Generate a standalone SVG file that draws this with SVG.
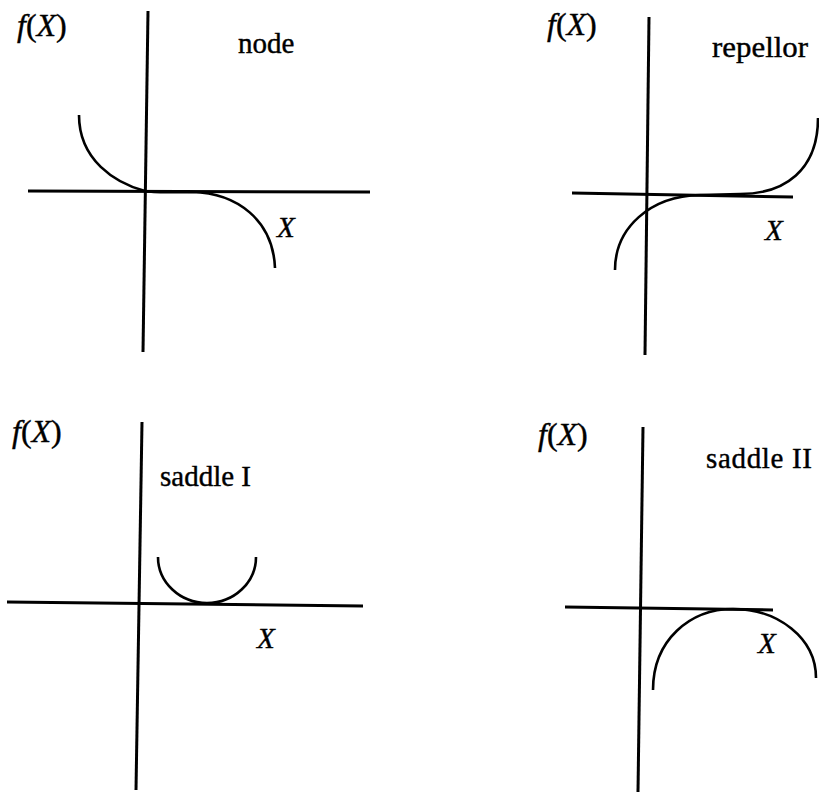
<svg xmlns="http://www.w3.org/2000/svg" width="819" height="793" viewBox="0 0 819 793">
<style>
.ax{stroke:#000;stroke-width:3;fill:none;stroke-linecap:butt}
.cv{stroke:#000;stroke-width:2.6;fill:none}
text{font-family:"Liberation Serif","Times New Roman",serif;font-size:29px;fill:#000;stroke:#000;stroke-width:0.4}
.fx{font-size:32px}
.it{font-style:italic}
</style>
<rect width="819" height="793" fill="#fff"/>
<g id="node-panel">
  <line class="ax" x1="148" y1="11" x2="143" y2="352"/>
  <line class="ax" x1="28" y1="191" x2="370" y2="192"/>
  <path class="cv" d="M79,115 C79,160 115,183 145,191 C155,193 172,192 192,192 C237,193 273,220 275,268"/>
  <text class="fx" x="17" y="36"><tspan class="it">f</tspan>(<tspan class="it">X</tspan>)</text>
  <text x="238" y="53">node</text>
  <text class="it" x="277" y="237">X</text>
</g>
<g id="repellor-panel">
  <line class="ax" x1="649" y1="17" x2="645" y2="355"/>
  <line class="ax" x1="572" y1="193" x2="793" y2="197"/>
  <path class="cv" d="M615,270 C615,228 650,196 700,195 L740,194 C785,194 818,170 818,118"/>
  <text class="fx" x="547" y="35"><tspan class="it">f</tspan>(<tspan class="it">X</tspan>)</text>
  <text x="712" y="57" textLength="96" lengthAdjust="spacingAndGlyphs">repellor</text>
  <text class="it" x="765" y="240">X</text>
</g>
<g id="saddle1-panel">
  <line class="ax" x1="142" y1="422" x2="136" y2="790"/>
  <line class="ax" x1="7" y1="602" x2="363" y2="606"/>
  <path class="cv" d="M158,557 A49,46 0 0 0 256,557"/>
  <text class="fx" x="12" y="442"><tspan class="it">f</tspan>(<tspan class="it">X</tspan>)</text>
  <text x="160" y="486">saddle I</text>
  <text class="it" x="257" y="648">X</text>
</g>
<g id="saddle2-panel">
  <line class="ax" x1="643" y1="427" x2="638" y2="792"/>
  <line class="ax" x1="565" y1="607" x2="773" y2="610"/>
  <path class="cv" d="M653,690 C653,640 690,609 733,609 C778,609 816,638 816,678"/>
  <text class="fx" x="538" y="445"><tspan class="it">f</tspan>(<tspan class="it">X</tspan>)</text>
  <text x="706" y="468" textLength="106">saddle II</text>
  <text class="it" x="758" y="653">X</text>
</g>
</svg>
